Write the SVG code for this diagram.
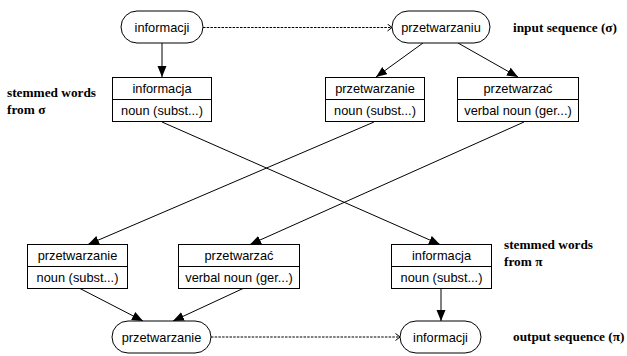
<svg xmlns="http://www.w3.org/2000/svg" width="627" height="356" viewBox="0 0 627 356">
<style>
.shape{fill:#fff;stroke:#000;stroke-width:1}
.t{font-family:"Liberation Sans",Arial,sans-serif;font-size:12.8px;fill:#000;text-anchor:middle}
.lbl{font-family:"Liberation Serif","Times New Roman",serif;font-size:13.3px;font-weight:bold;fill:#000}
.edge{fill:none;stroke:#000;stroke-width:1}
.solid{marker-end:url(#filled)}
.dash{stroke-dasharray:2.5,1.2;marker-end:url(#open)}
</style>
<defs>
<marker id="filled" markerUnits="userSpaceOnUse" markerWidth="12" markerHeight="10" refX="11" refY="4.5" orient="auto">
<path d="M0,0 L11,4.5 L0,9 z" fill="#000"/>
</marker>
<marker id="open" markerUnits="userSpaceOnUse" markerWidth="7" markerHeight="9" refX="5" refY="4" orient="auto">
<path d="M0.5,0.5 L5,4 L0.5,7.5" fill="none" stroke="#000" stroke-width="1"/>
</marker>
</defs>
<rect width="627" height="356" fill="#fff"/>

<g id="connectors">
<line class="edge dash" x1="203" y1="27.5" x2="392" y2="27.5"/>
<line class="edge solid" x1="162" y1="43" x2="162" y2="77"/>
<line class="edge solid" x1="423" y1="43" x2="376" y2="77"/>
<line class="edge solid" x1="458" y1="43" x2="518" y2="77"/>
<line class="edge solid" x1="162" y1="122" x2="440" y2="244.5"/>
<line class="edge solid" x1="374" y1="122" x2="88" y2="244.5"/>
<line class="edge solid" x1="524" y1="122" x2="250" y2="244.5"/>
<line class="edge solid" x1="80" y1="288.5" x2="143" y2="321"/>
<line class="edge solid" x1="243" y1="288.5" x2="173" y2="321"/>
<line class="edge solid" x1="441" y1="288.5" x2="441" y2="321"/>
<line class="edge dash" x1="211" y1="337" x2="400" y2="337"/>
</g>

<g id="in-informacji">
<rect class="shape" x="121" y="11" width="82" height="32" rx="16"/>
<text class="t" x="162" y="31.5">informacji</text>
</g>
<g id="in-przetwarzaniu">
<rect class="shape" x="392" y="11" width="98" height="32" rx="16"/>
<text class="t" x="441" y="31.5">przetwarzaniu</text>
</g>

<g id="s-informacja">
<rect class="shape" x="112.5" y="77.5" width="99" height="44"/>
<line class="edge" x1="112.5" y1="99.5" x2="211.5" y2="99.5"/>
<text class="t" x="162" y="93">informacja</text>
<text class="t" x="162" y="115">noun (subst...)</text>
</g>
<g id="s-przetwarzanie">
<rect class="shape" x="325.5" y="77.5" width="99" height="44"/>
<line class="edge" x1="325.5" y1="99.5" x2="424.5" y2="99.5"/>
<text class="t" x="375" y="93">przetwarzanie</text>
<text class="t" x="375" y="115">noun (subst...)</text>
</g>
<g id="s-przetwarzac">
<rect class="shape" x="457.5" y="77.5" width="121" height="44"/>
<line class="edge" x1="457.5" y1="99.5" x2="578.5" y2="99.5"/>
<text class="t" x="518" y="93">przetwarzać</text>
<text class="t" x="518" y="115">verbal noun (ger...)</text>
</g>

<g id="p-przetwarzanie">
<rect class="shape" x="27.5" y="244.5" width="100" height="44"/>
<line class="edge" x1="27.5" y1="266.5" x2="127.5" y2="266.5"/>
<text class="t" x="77.5" y="260">przetwarzanie</text>
<text class="t" x="77.5" y="282">noun (subst...)</text>
</g>
<g id="p-przetwarzac">
<rect class="shape" x="178.5" y="244.5" width="121" height="44"/>
<line class="edge" x1="178.5" y1="266.5" x2="299.5" y2="266.5"/>
<text class="t" x="239" y="260">przetwarzać</text>
<text class="t" x="239" y="282">verbal noun (ger...)</text>
</g>
<g id="p-informacja">
<rect class="shape" x="391.5" y="244.5" width="100" height="44"/>
<line class="edge" x1="391.5" y1="266.5" x2="491.5" y2="266.5"/>
<text class="t" x="441.5" y="260">informacja</text>
<text class="t" x="441.5" y="282">noun (subst...)</text>
</g>

<g id="out-przetwarzanie">
<rect class="shape" x="112" y="321" width="99" height="32" rx="16"/>
<text class="t" x="161.5" y="341.5">przetwarzanie</text>
</g>
<g id="out-informacji">
<rect class="shape" x="400" y="321" width="81" height="32" rx="16"/>
<text class="t" x="440.5" y="341.5">informacji</text>
</g>

<g id="labels">
<text class="lbl" x="513" y="32">input sequence (σ)</text>
<text class="lbl" x="7" y="97">stemmed words</text>
<text class="lbl" x="7" y="114">from σ</text>
<text class="lbl" x="504" y="249">stemmed words</text>
<text class="lbl" x="504" y="266">from π</text>
<text class="lbl" x="513" y="341">output sequence (π)</text>
</g>
</svg>
